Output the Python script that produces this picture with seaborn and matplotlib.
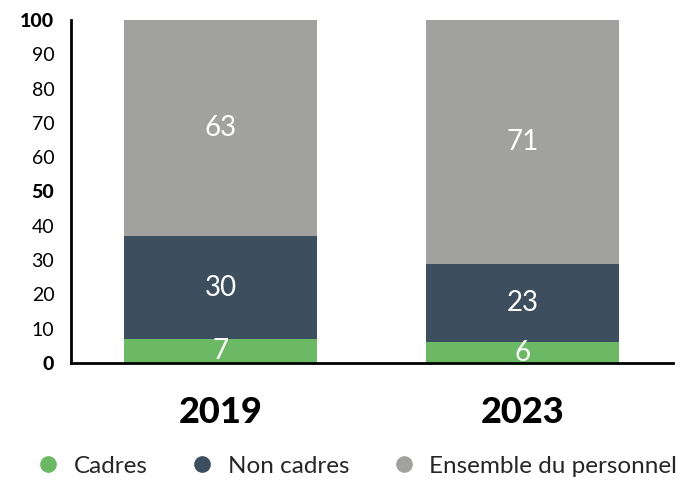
import matplotlib
matplotlib.use("Agg")
import matplotlib.pyplot as plt
import seaborn as sns
import pandas as pd
import numpy as np
from matplotlib.lines import Line2D

years = ["2019", "2023"]
series = ["Cadres", "Non cadres", "Ensemble du personnel"]
cadres = [7, 6]
non_cadres = [30, 23]
ensemble = [63, 71]
colors = ["#6cb965", "#3d4f5f", "#a1a19f"]
yticks = [0, 10, 20, 30, 40, 50, 60, 70, 80, 90, 100]

sns.set_theme(style="white")
plt.rcParams['font.family'] = ['Lato', 'DejaVu Sans']

fig = plt.figure(figsize=(6.83, 4.8), dpi=100)
ax = fig.add_axes([71/683, 1-363/480, (673-71)/683, (363-20)/480])

df = pd.DataFrame({"year": years, "Cadres": cadres, "Non cadres": non_cadres,
                   "Ensemble du personnel": ensemble})
bottom = np.zeros(len(years))
for s, c in zip(series, colors):
    vals = df[s].values
    sns.barplot(x=df["year"], y=vals, bottom=bottom, color=c, width=0.64,
                ax=ax, saturation=1, linewidth=0)
    for i, v in enumerate(vals):
        ax.text(i, bottom[i] + v/2, str(v), ha="center", va="center",
                color="white", fontsize=20)
    bottom = bottom + vals

ax.set_xlim(-0.495, 1.498)
ax.set_ylim(0, 100)
ax.set_yticks(yticks)
ax.set_yticklabels([str(t) for t in yticks], fontsize=14)
for lab, t in zip(ax.get_yticklabels(), yticks):
    if t in (0, 50, 100):
        lab.set_fontweight("black")
ax.tick_params(axis="y", direction="in", length=10, width=2, color="black", pad=12, labelcolor="black")
ax.tick_params(axis="x", length=0, pad=24, labelsize=26)
for lab in ax.get_xticklabels():
    lab.set_fontweight("black")
    lab.set_color("black")
ax.set_xlabel("")
ax.set_ylabel("")
for sp in ["top", "right"]:
    ax.spines[sp].set_visible(False)
ax.spines["left"].set_linewidth(2)
ax.spines["bottom"].set_linewidth(2)
ax.spines["left"].set_color("black")
ax.spines["bottom"].set_color("black")

handles = [Line2D([], [], marker="o", linestyle="", markersize=11, color=c) for c in colors]
fig.legend(handles, series, loc="center", bbox_to_anchor=(0.522, 1-466/480), ncol=3,
           frameon=False, fontsize=17.5, handletextpad=0.55, columnspacing=1.75, handlelength=1)

fig.savefig("out.png", dpi=100)
